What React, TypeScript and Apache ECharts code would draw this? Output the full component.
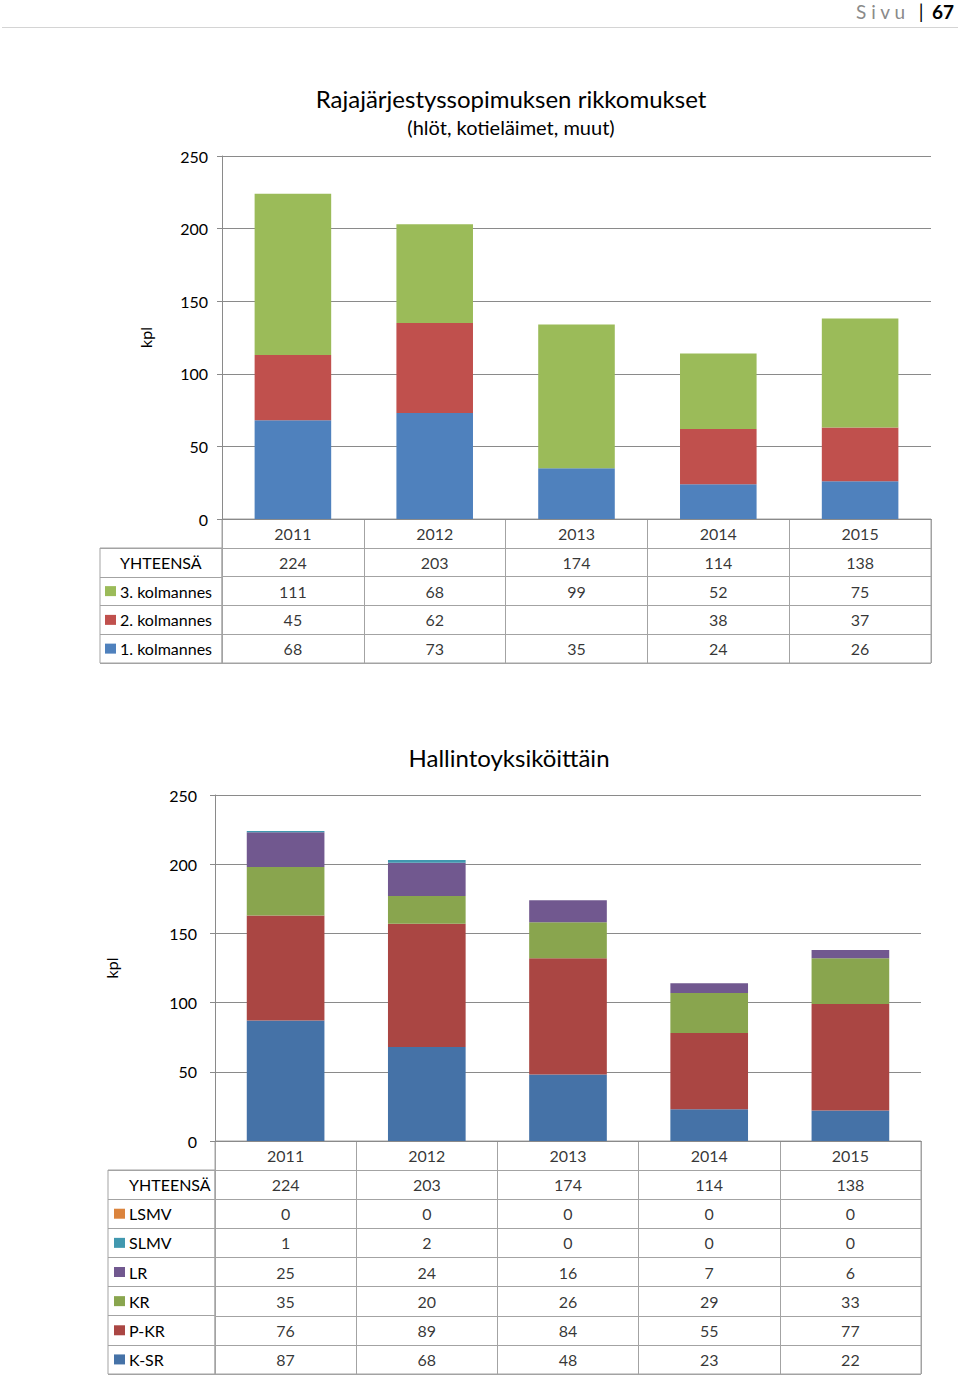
import React, { useEffect, useRef } from "react";
import * as echarts from "echarts";

// ---------- DATA ----------
const years = ["2011", "2012", "2013", "2014", "2015"];

// Chart 1: Rajajärjestyssopimuksen rikkomukset
const kolmannes1 = [68, 73, 35, 24, 26];
const kolmannes2: (number | null)[] = [45, 62, null, 38, 37];
const kolmannes3 = [111, 68, 99, 52, 75];
const yhteensa1 = [224, 203, 174, 114, 138];

// Chart 2: Hallintoyksiköittäin
const ksr = [87, 68, 48, 23, 22];
const pkr = [76, 89, 84, 55, 77];
const kr = [35, 20, 26, 29, 33];
const lr = [25, 24, 16, 7, 6];
const slmv = [1, 2, 0, 0, 0];
const lsmv = [0, 0, 0, 0, 0];
const yhteensa2 = [224, 203, 174, 114, 138];

const yMin = 0;
const yMax = 250;
const yInterval = 50;

// ---------- STYLE ----------
const FONT = "Lato, 'Open Sans', sans-serif";
const GRID_COLOR = "#8a8a8a";
const TABLE_COLOR = "#a3a3a3";
const c1Colors = { q1: "#4F81BD", q2: "#C0504D", q3: "#9BBB59" };
const c2Colors = {
  ksr: "#4572A7",
  pkr: "#AA4643",
  kr: "#89A54E",
  lr: "#71588F",
  slmv: "#4198AF",
  lsmv: "#DB843D",
};

type Row = { name: string; color: string; values: (number | null)[] };

const rows1: Row[] = [
  { name: "YHTEENSÄ", color: "transparent", values: yhteensa1 },
  { name: "3. kolmannes", color: c1Colors.q3, values: kolmannes3 },
  { name: "2. kolmannes", color: c1Colors.q2, values: kolmannes2 },
  { name: "1. kolmannes", color: c1Colors.q1, values: kolmannes1 },
];
const rows2: Row[] = [
  { name: "YHTEENSÄ", color: "transparent", values: yhteensa2 },
  { name: "LSMV", color: c2Colors.lsmv, values: lsmv },
  { name: "SLMV", color: c2Colors.slmv, values: slmv },
  { name: "LR", color: c2Colors.lr, values: lr },
  { name: "KR", color: c2Colors.kr, values: kr },
  { name: "P-KR", color: c2Colors.pkr, values: pkr },
  { name: "K-SR", color: c2Colors.ksr, values: ksr },
];

function tableCells(rows: Row[]) {
  const out: any[] = [];
  years.forEach((y, j) => {
    out.push({ value: [j, 0], name: y });
    rows.forEach((r, i) => {
      const v = r.values[j];
      out.push({ value: [j, i + 1], name: v === null ? "" : String(v) });
    });
  });
  return out;
}

function buildOption() {
  const grids = [
    { left: 222, top: 156, width: 709, height: 363 }, // 0 plot 1
    { left: 222, top: 519, width: 709, height: 144, show: true, borderColor: TABLE_COLOR, borderWidth: 1 }, // 1 table 1
    { left: 100, top: 548, width: 122, height: 115, show: true, borderColor: TABLE_COLOR, borderWidth: 1 }, // 2 labels 1
    { left: 215, top: 795, width: 706, height: 346 }, // 3 plot 2
    { left: 215, top: 1141, width: 706, height: 233, show: true, borderColor: TABLE_COLOR, borderWidth: 1 }, // 4 table 2
    { left: 108, top: 1170, width: 107, height: 204, show: true, borderColor: TABLE_COLOR, borderWidth: 1 }, // 5 labels 2
  ];

  const plotX = (gi: number) => ({
    type: "category",
    gridIndex: gi,
    data: years,
    axisLine: { show: true, lineStyle: { color: GRID_COLOR, width: 1 } },
    axisTick: { show: false },
    axisLabel: { show: false },
  });
  const plotY = (gi: number, nameGap: number, margin: number) => ({
    type: "value",
    gridIndex: gi,
    min: yMin,
    max: yMax,
    interval: yInterval,
    name: "kpl",
    nameLocation: "middle",
    nameRotate: 90,
    nameGap,
    nameTextStyle: { fontFamily: FONT, fontSize: 16, color: "#000" },
    axisLine: { show: true, lineStyle: { color: GRID_COLOR, width: 1 } },
    axisTick: { show: true, length: 5, lineStyle: { color: GRID_COLOR } },
    splitLine: { show: true, lineStyle: { color: GRID_COLOR, width: 1 } },
    axisLabel: { fontFamily: FONT, fontSize: 16, color: "#000", margin },
  });
  const tableX = (gi: number) => ({
    type: "category",
    gridIndex: gi,
    data: years,
    axisLine: { show: false },
    axisTick: { show: false },
    axisLabel: { show: false },
    splitLine: { show: true, lineStyle: { color: TABLE_COLOR, width: 1 } },
  });
  const tableY = (gi: number, n: number) => ({
    type: "category",
    gridIndex: gi,
    inverse: true,
    data: Array.from({ length: n }, (_, i) => String(i)),
    axisLine: { show: false },
    axisTick: { show: false },
    axisLabel: { show: false },
    splitLine: { show: true, lineStyle: { color: TABLE_COLOR, width: 1 } },
  });
  const labelX = (gi: number) => ({
    type: "category",
    gridIndex: gi,
    data: [""],
    axisLine: { show: false },
    axisTick: { show: false },
    axisLabel: { show: false },
  });
  const labelY = (gi: number, rows: Row[], margin: number) => {
    const rich: any = {
      t: { fontFamily: FONT, fontSize: 16, color: "#000", padding: [0, 0, 0, 4] },
    };
    rows.forEach((r, i) => {
      rich["s" + i] = { width: 11, height: 10, backgroundColor: r.color };
    });
    return {
      type: "category",
      gridIndex: gi,
      inverse: true,
      data: rows.map((r) => r.name),
      axisLine: { show: false },
      axisTick: { show: false },
      splitLine: { show: true, lineStyle: { color: TABLE_COLOR, width: 1 } },
      axisLabel: {
        inside: true,
        margin,
        formatter: (v: string, idx: number) => `{s${idx}|}{t|${v}}`,
        rich,
      },
    };
  };

  const bar = (name: string, data: (number | null)[], color: string, xi: number, stack: string, w: string) => ({
    type: "bar",
    name,
    data,
    stack,
    xAxisIndex: xi,
    yAxisIndex: xi,
    barWidth: w,
    itemStyle: { color },
  });

  const cellSeries = (rows: Row[], idx: number) => ({
    type: "scatter",
    xAxisIndex: idx,
    yAxisIndex: idx,
    symbolSize: 1,
    itemStyle: { color: "transparent" },
    silent: true,
    data: tableCells(rows),
    label: {
      show: true,
      position: "inside",
      formatter: "{b}",
      fontFamily: FONT,
      fontSize: 16,
      color: "#000",
    },
  });

  return {
    animation: false,
    backgroundColor: "#fff",
    graphic: [
      { type: "line", shape: { x1: 2, y1: 27.5, x2: 958, y2: 27.5 }, style: { stroke: "#d4d4d4", lineWidth: 1 } },
      {
        type: "text",
        x: 905,
        y: 11,
        style: { text: "S i v u", fontFamily: FONT, fontSize: 19, fill: "#8a8a8a", align: "right", verticalAlign: "middle" },
      },
      {
        type: "text",
        x: 921,
        y: 11,
        style: { text: "|", fontFamily: FONT, fontSize: 19, fill: "#000", align: "center", verticalAlign: "middle" },
      },
      {
        type: "text",
        x: 932,
        y: 11,
        style: { text: "67", fontFamily: FONT, fontSize: 19, fontWeight: "bold", fill: "#000", align: "left", verticalAlign: "middle" },
      },
      {
        type: "text",
        x: 511,
        y: 98,
        style: { text: "Rajajärjestyssopimuksen rikkomukset", fontFamily: FONT, fontSize: 24, fill: "#000", align: "center", verticalAlign: "middle" },
      },
      {
        type: "text",
        x: 511,
        y: 127,
        style: { text: "(hlöt, kotieläimet, muut)", fontFamily: FONT, fontSize: 20, fill: "#000", align: "center", verticalAlign: "middle" },
      },
      {
        type: "text",
        x: 509,
        y: 757,
        style: { text: "Hallintoyksiköittäin", fontFamily: FONT, fontSize: 24, fill: "#000", align: "center", verticalAlign: "middle" },
      },
    ],
    grid: grids,
    xAxis: [plotX(0), tableX(1), labelX(2), plotX(3), tableX(4), labelX(5)],
    yAxis: [
      plotY(0, 69, 14),
      tableY(1, rows1.length + 1),
      labelY(2, rows1, 5),
      plotY(3, 96, 18),
      tableY(4, rows2.length + 1),
      labelY(5, rows2, 6),
    ],
    series: [
      bar("1. kolmannes", kolmannes1, c1Colors.q1, 0, "c1", "54%"),
      bar("2. kolmannes", kolmannes2, c1Colors.q2, 0, "c1", "54%"),
      bar("3. kolmannes", kolmannes3, c1Colors.q3, 0, "c1", "54%"),
      cellSeries(rows1, 1),
      bar("K-SR", ksr, c2Colors.ksr, 3, "c2", "55%"),
      bar("P-KR", pkr, c2Colors.pkr, 3, "c2", "55%"),
      bar("KR", kr, c2Colors.kr, 3, "c2", "55%"),
      bar("LR", lr, c2Colors.lr, 3, "c2", "55%"),
      bar("SLMV", slmv, c2Colors.slmv, 3, "c2", "55%"),
      bar("LSMV", lsmv, c2Colors.lsmv, 3, "c2", "55%"),
      cellSeries(rows2, 4),
    ],
  };
}

export default function App() {
  const ref = useRef<HTMLDivElement>(null);
  useEffect(() => {
    if (!ref.current) return;
    const chart = echarts.init(ref.current, undefined, { renderer: "svg" });
    chart.setOption(buildOption() as any);
    return () => chart.dispose();
  }, []);
  return (
    <div
      ref={ref}
      style={{ position: "absolute", left: 0, top: 0, width: 960, height: 1376, background: "#fff" }}
    />
  );
}
